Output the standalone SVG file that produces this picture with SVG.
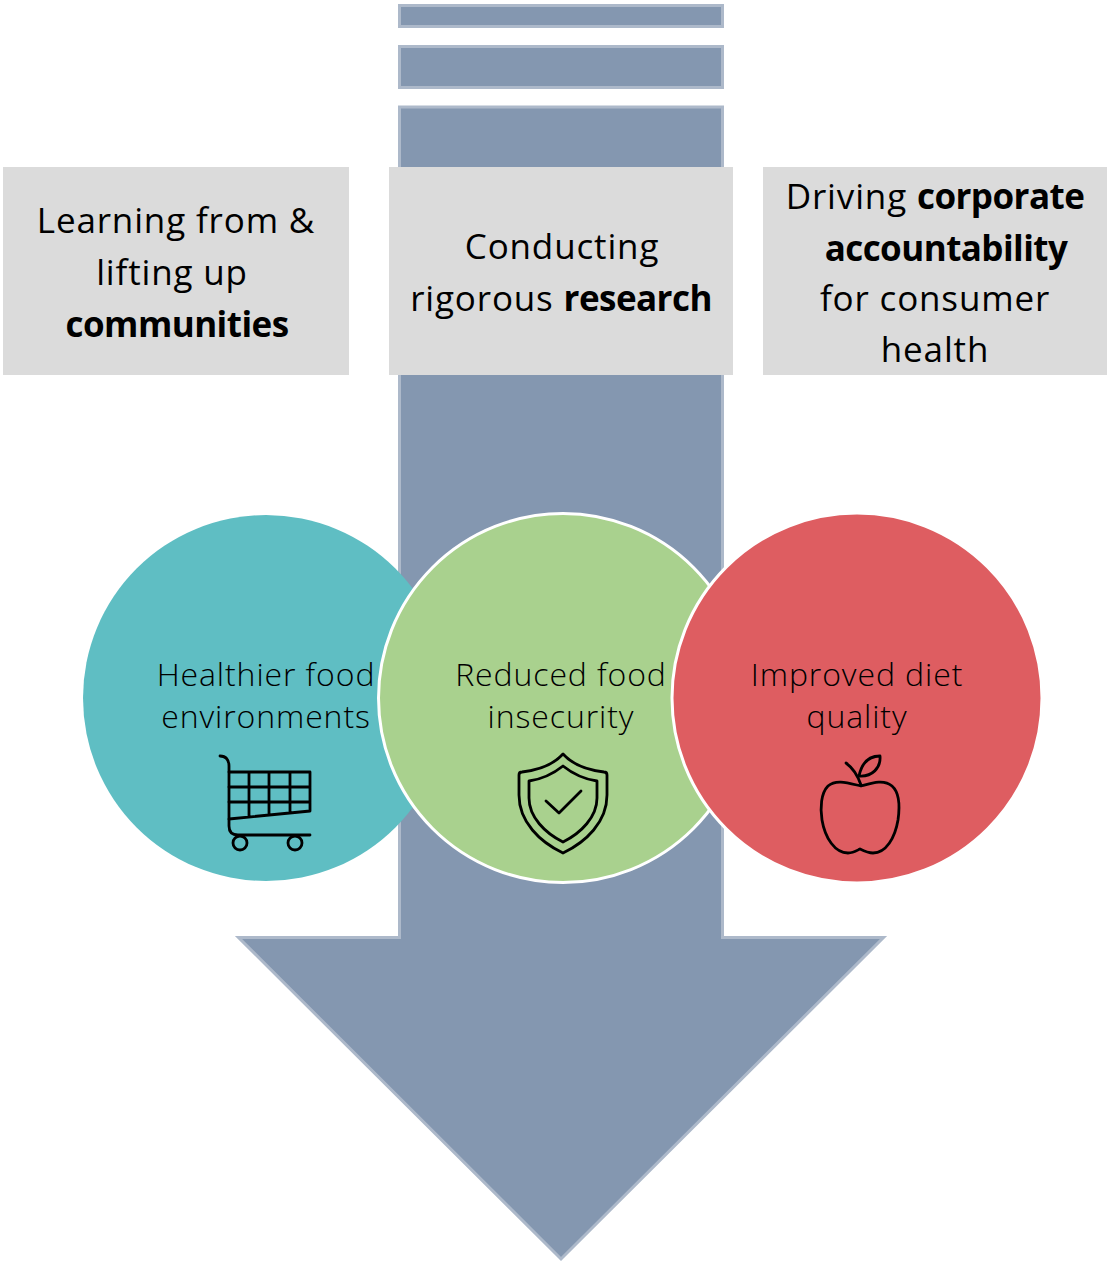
<svg xmlns="http://www.w3.org/2000/svg" width="1107" height="1262" viewBox="0 0 1107 1262">
<style>
.bar{fill:#8497b0;stroke:#adb9ca;stroke-width:3}
.box{fill:#dbdbdb}
.t{font-family:"Open Sans","Noto Sans",sans-serif;font-size:35px;letter-spacing:.85px;fill:#000;text-anchor:middle}
.c{font-family:"Open Sans","Noto Sans",sans-serif;font-size:32px;font-weight:300;letter-spacing:.9px;fill:#000;text-anchor:middle}
.b{font-weight:700;letter-spacing:-.55px}
.i{fill:none;stroke:#000;stroke-linecap:round;stroke-linejoin:round}
</style>
<rect width="1107" height="1262" fill="#fff"/>
<g id="connectors">
<rect class="bar" x="399.500" y="5.500" width="323" height="21"/>
<rect class="bar" x="399.500" y="46.500" width="323" height="41"/>
<path class="bar" d="M399.500 107H722.500V937.500H883.500L561 1259L238.500 937.500H399.500Z"/>
</g>
<g id="box-communities">
<rect class="box" x="3" y="167" width="346" height="208"/>
<text class="t" x="176" y="233">Learning from &amp;</text>
<text class="t" x="172" y="285">lifting up</text>
<text class="t b" x="177" y="337">communities</text>
</g>
<g id="box-research">
<rect class="box" x="389" y="167" width="344" height="208"/>
<text class="t" x="562" y="259">Conducting</text>
<text class="t" x="561" y="311">rigorous <tspan class="b">research</tspan></text>
</g>
<g id="box-accountability">
<rect class="box" x="763" y="167" width="344" height="208"/>
<text class="t" x="935" y="209">Driving <tspan class="b">corporate</tspan></text>
<text class="t b" x="946" y="261">accountability</text>
<text class="t" x="935" y="311">for consumer</text>
<text class="t" x="935" y="362">health</text>
</g>
<g id="node-food-environments">
<circle cx="266" cy="698" r="183" fill="#5fbec3"/>
<text class="c" x="266" y="686">Healthier food</text>
<text class="c" x="266" y="728">environments</text>
<g class="i" stroke-width="2.800">
<path d="M220 756C226 756 229 760 229 766V826C229 832 232 835 238 835H310"/>
<path d="M229 772H310V811L229 819M229 787H310M229 802H310M249 772V817M269 772V815M290 772V813"/>
<circle cx="240" cy="843" r="7"/>
<circle cx="295" cy="843" r="7"/>
</g>
</g>
<g id="node-food-insecurity">
<circle cx="563" cy="698" r="184.500" fill="#a9d18e" stroke="#fff" stroke-width="3"/>
<text class="c" x="561" y="686">Reduced food</text>
<text class="c" x="561" y="728">insecurity</text>
<g class="i" stroke-width="2.800">
<path d="M563 754C553 765 540 770 522 772C520 772 519 773 519 775V795C519 822 540 842 563 853C586 842 607 822 607 795V775C607 773 606 772 604 772C586 770 573 765 563 754Z"/>
<path d="M563 766C553 774 543 779 529 781V798C529 817 545 833 563 842C581 833 597 817 597 798V781C583 779 573 774 563 766Z"/>
<path d="M546 801L559 813L581 791"/>
</g>
</g>
<g id="node-diet-quality">
<circle cx="857" cy="698" r="185" fill="#de5d61" stroke="#fff" stroke-width="3"/>
<text class="c" x="857" y="686">Improved diet</text>
<text class="c" x="857" y="728">quality</text>
<g class="i" stroke-width="2.800">
<path d="M861 786C848 783 836 779 828 786C821 793 820 808 822 820C825 838 835 853 848 853C853 853 856 851 860 849C864 851 868 853 873 853C886 853 895 838 898 820C900 806 900 793 892 786C884 779 872 783 861 786Z"/>
<path d="M846 763C853 768 858 776 861 785"/>
<path d="M859 776C862 762 870 756 880 756C881 768 872 777 859 776Z"/>
</g>
</g>
</svg>
